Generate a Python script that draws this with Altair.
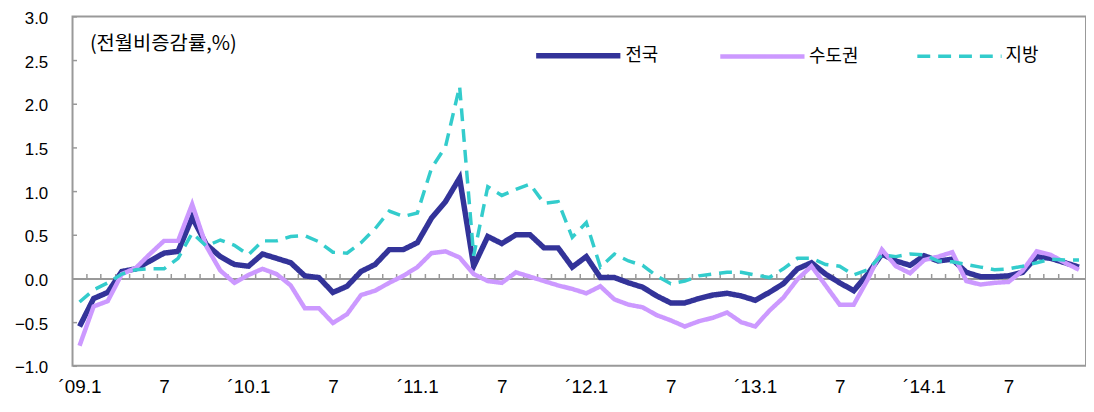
import altair as alt
import pandas as pd

# ---------------- data ----------------
months = list(range(72))  # 2009.1 ... 2014.12
series_names = ["전국", "수도권", "지방"]

nation = [-0.55, -0.23, -0.16, 0.08, 0.11, 0.20, 0.29, 0.31, 0.70, 0.39, 0.25, 0.16,
          0.14, 0.28, 0.23, 0.18, 0.03, 0.01, -0.16, -0.09, 0.08, 0.16, 0.33, 0.33,
          0.41, 0.69, 0.88, 1.15, 0.14, 0.48, 0.40, 0.50, 0.50, 0.35, 0.35, 0.13,
          0.25, 0.01, 0.01, -0.05, -0.10, -0.20, -0.28, -0.28, -0.23, -0.19, -0.17, -0.20,
          -0.25, -0.16, -0.06, 0.11, 0.18, 0.05, -0.05, -0.14, 0.05, 0.28, 0.20, 0.15,
          0.26, 0.20, 0.22, 0.07, 0.02, 0.02, 0.03, 0.07, 0.25, 0.23, 0.18, 0.13]

capital = [-0.77, -0.32, -0.26, 0.05, 0.12, 0.28, 0.43, 0.43, 0.85, 0.37, 0.09, -0.05,
           0.04, 0.11, 0.05, -0.08, -0.34, -0.34, -0.51, -0.41, -0.19, -0.14, -0.05, 0.03,
           0.13, 0.29, 0.31, 0.24, 0.05, -0.03, -0.05, 0.07, 0.02, -0.03, -0.08, -0.12,
           -0.17, -0.09, -0.24, -0.30, -0.33, -0.42, -0.48, -0.55, -0.49, -0.45, -0.39, -0.50,
           -0.55, -0.37, -0.22, -0.01, 0.14, -0.08, -0.30, -0.30, -0.01, 0.33, 0.14, 0.06,
           0.21, 0.25, 0.30, -0.03, -0.07, -0.05, -0.04, 0.09, 0.31, 0.27, 0.18, 0.10]

province = [-0.27, -0.13, -0.05, 0.05, 0.10, 0.11, 0.11, 0.23, 0.52, 0.37, 0.44, 0.38,
            0.27, 0.43, 0.43, 0.48, 0.49, 0.42, 0.30, 0.29, 0.41, 0.57, 0.77, 0.71,
            0.75, 1.26, 1.51, 2.20, 0.26, 1.05, 0.95, 1.02, 1.08, 0.86, 0.88, 0.47,
            0.64, 0.13, 0.28, 0.20, 0.15, 0.03, -0.06, -0.03, 0.03, 0.05, 0.07, 0.07,
            0.04, 0.01, 0.11, 0.23, 0.23, 0.16, 0.14, 0.04, 0.10, 0.27, 0.25, 0.28,
            0.27, 0.20, 0.19, 0.16, 0.13, 0.10, 0.11, 0.14, 0.18, 0.22, 0.21, 0.21]

tick_months = [0, 6, 12, 18, 24, 30, 36, 42, 48, 54, 60, 66]
tick_labels = ["´09.1", "7", "´10.1", "7", "´11.1", "7", "´12.1", "7", "´13.1", "7", "´14.1", "7"]
y_ticks = [-1.0, -0.5, 0.0, 0.5, 1.0, 1.5, 2.0, 2.5, 3.0]
unit_label = "(전월비증감률,%)"

colors = ["#333399", "#CC99FF", "#33CCCC"]
dashes = [[1, 0], [1, 0], [13, 8]]
widths = [5.5, 3.5, 2.0]

rows = []
for name, vals in zip(series_names, [nation, capital, province]):
    for m, v in zip(months, vals):
        rows.append({"month": m, "value": v, "series": name})
df = pd.DataFrame(rows)

# ---------------- layout ----------------
W, H = 1021, 352
Y_MIN, Y_MAX = -1.0, 3.0
zero_pos = H * (Y_MAX - 0.0) / (Y_MAX - Y_MIN)
GRAY = "#999999"
KFONT = "Noto Sans CJK KR"

x_scale = alt.Scale(domain=[-0.5, len(months) - 0.5], nice=False, zero=False)
y_scale = alt.Scale(domain=[Y_MIN, Y_MAX], nice=False, zero=False)

label_expr = ("[" + ",".join(f"'{t}'" for t in tick_labels) + "][indexof(["
              + ",".join(str(m) for m in tick_months) + "], datum.value)]")

legend = alt.Legend(
    title=None, orient="none", legendX=464, legendY=-6, direction="horizontal",
    symbolType="stroke", symbolSize=7200, labelFont=KFONT, labelFontSize=18,
    labelColor="black", labelOffset=2, columnPadding=52, padding=0,
)

lines = alt.Chart(df).mark_line().encode(
    x=alt.X("month:Q", scale=x_scale,
            axis=alt.Axis(orient="top", offset=-zero_pos,
                          values=[m + 0.5 for m in months[:-1]], labels=False,
                          tickSize=5, tickColor=GRAY, tickWidth=1.5,
                          domainColor=GRAY, domainWidth=2, grid=False, title=None)),
    y=alt.Y("value:Q", scale=y_scale,
            axis=alt.Axis(orient="left", values=y_ticks, format=".1f", ticks=False,
                          tickSize=0, domain=False, grid=False, labelPadding=25,
                          labelFontSize=17, labelOffset=2, title=unit_label,
                          titleX=17, titleY=17,
                          titleAngle=0, titleAlign="left", titleBaseline="top",
                          titleFont=KFONT, titleFontSize=20, titleFontWeight="normal",
                          titleColor="black")),
    color=alt.Color("series:N", scale=alt.Scale(domain=series_names, range=colors), legend=legend),
    strokeDash=alt.StrokeDash("series:N", scale=alt.Scale(domain=series_names, range=dashes), legend=legend),
    strokeWidth=alt.StrokeWidth("series:N", scale=alt.Scale(domain=series_names, range=widths), legend=legend),
)

guide = alt.Chart(df).mark_point(opacity=0).encode(
    x=alt.X("month:Q", scale=x_scale,
            axis=alt.Axis(orient="bottom", values=tick_months, labelExpr=label_expr,
                          ticks=False, tickSize=0, domain=False, grid=False,
                          labelPadding=12, labelFontSize=19, title=None)),
    y=alt.Y("value:Q", scale=y_scale,
            axis=alt.Axis(orient="right", offset=-W, values=y_ticks, labels=False,
                          tickSize=4, tickColor=GRAY, tickWidth=1.5, domain=False,
                          grid=False, title=None)),
)

chart = alt.layer(lines, guide).properties(
    width=W, height=H,
    padding={"left": 65, "top": 7, "right": 0, "bottom": 33},
    autosize=alt.AutoSizeParams(type="none"),
).configure_view(stroke=GRAY, strokeWidth=2).configure_axis(
    labelColor="black", labelFont="Liberation Sans"
)

chart.save("out.html", embed_options={"renderer": "svg", "actions": False})
